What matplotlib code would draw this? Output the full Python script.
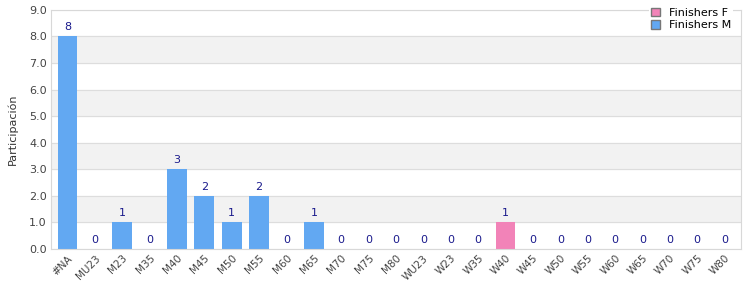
import numpy as np
import matplotlib
matplotlib.use("Agg")
import matplotlib.pyplot as plt
from matplotlib.patches import Patch

categories = ["#NA", "MU23", "M23", "M35", "M40", "M45", "M50", "M55", "M60", "M65",
              "M70", "M75", "M80", "WU23", "W23", "W35", "W40", "W45", "W50", "W55",
              "W60", "W65", "W70", "W75", "W80"]
finishers_m = [8, 0, 1, 0, 3, 2, 1, 2, 0, 1, 0, 0, 0, 0, 0, 0, 0, 0, 0, 0, 0, 0, 0, 0, 0]
finishers_f = [0, 0, 0, 0, 0, 0, 0, 0, 0, 0, 0, 0, 0, 0, 0, 0, 1, 0, 0, 0, 0, 0, 0, 0, 0]
yticks = np.arange(0, 10, 1)

blue = "#62a8f2"
pink = "#f283b8"
label_col = "#1a1a8c"

fig = plt.figure(figsize=(7.5, 3), dpi=100)
ax = fig.add_axes([0.068, 0.17, 0.92, 0.797])

# alternating bands
for lo in range(1, 9, 2):
    ax.axhspan(lo, lo + 1, color="#f2f2f2", zorder=0)
for y in yticks:
    ax.axhline(y, color="#dddddd", linewidth=0.8, zorder=1)

x = np.arange(len(categories))
totals = [m + f for m, f in zip(finishers_m, finishers_f)]
ax.bar(x, finishers_m, width=0.72, color=blue, zorder=2)
ax.bar(x, finishers_f, bottom=finishers_m, width=0.72, color=pink, zorder=2)

for xi, t in zip(x, totals):
    ax.text(xi, t + 0.15, str(t), ha="center", va="bottom", fontsize=8, color=label_col)

ax.set_xlim(-0.6, len(categories) - 0.4)
ax.set_ylim(0, 9)
ax.set_yticks(yticks)
ax.set_yticklabels([f"{v:.1f}" for v in yticks], fontsize=8, color="#444444")
ax.set_xticks(x)
ax.set_xticklabels(categories, rotation=45, ha="right", rotation_mode="anchor",
                   fontsize=7.5, color="#444444")
ax.tick_params(length=0, pad=3)
ax.set_ylabel("Participación", fontsize=8, color="#333333", labelpad=8)

for s in ax.spines.values():
    s.set_color("#d8d8d8")

handles = [Patch(facecolor=pink, edgecolor="#777777", label="Finishers F"),
           Patch(facecolor=blue, edgecolor="#777777", label="Finishers M")]
leg = fig.legend(handles=handles, loc="upper right", bbox_to_anchor=(0.985, 1.0),
                 fontsize=8, frameon=True, framealpha=1, edgecolor="white",
                 handlelength=0.8, handleheight=0.8, borderpad=0.2, labelspacing=0.2)
leg.get_frame().set_linewidth(0)

fig.savefig("out.png", dpi=100)
